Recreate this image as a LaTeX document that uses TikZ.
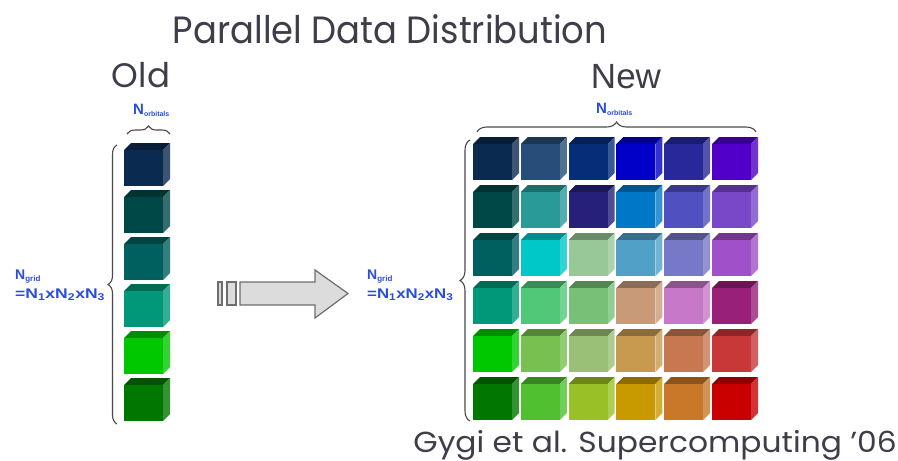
\documentclass[tikz,border=0pt]{standalone}
\usepackage{fontspec}
\setmainfont{Poppins}
\newfontfamily\lblfont{Liberation Sans}
\usetikzlibrary{decorations.pathreplacing}
\definecolor{titlegray}{HTML}{3E3E4A}
\definecolor{lblblue}{HTML}{2A4BE0}
\definecolor{bracegray}{HTML}{4A4A4A}
\definecolor{arrfill}{HTML}{DCDCDC}
\definecolor{arrdraw}{HTML}{6E6E6E}
% cube colours (row r, column c)
\definecolor{c11}{HTML}{0A2A50}\definecolor{c12}{HTML}{264E78}\definecolor{c13}{HTML}{062E78}\definecolor{c14}{HTML}{0000C8}\definecolor{c15}{HTML}{28289A}\definecolor{c16}{HTML}{5000C8}
\definecolor{c21}{HTML}{004848}\definecolor{c22}{HTML}{2A9A98}\definecolor{c23}{HTML}{26207A}\definecolor{c24}{HTML}{0078C8}\definecolor{c25}{HTML}{5050C0}\definecolor{c26}{HTML}{7848C8}
\definecolor{c31}{HTML}{005F5F}\definecolor{c32}{HTML}{00C8C8}\definecolor{c33}{HTML}{98C898}\definecolor{c34}{HTML}{50A0C8}\definecolor{c35}{HTML}{7878C8}\definecolor{c36}{HTML}{A050C8}
\definecolor{c41}{HTML}{009878}\definecolor{c42}{HTML}{50C878}\definecolor{c43}{HTML}{78C078}\definecolor{c44}{HTML}{C89A78}\definecolor{c45}{HTML}{C878C8}\definecolor{c46}{HTML}{982078}
\definecolor{c51}{HTML}{00C800}\definecolor{c52}{HTML}{78C050}\definecolor{c53}{HTML}{9AC078}\definecolor{c54}{HTML}{C89A50}\definecolor{c55}{HTML}{C87850}\definecolor{c56}{HTML}{C83838}
\definecolor{c61}{HTML}{007800}\definecolor{c62}{HTML}{50C030}\definecolor{c63}{HTML}{9AC028}\definecolor{c64}{HTML}{C89A00}\definecolor{c65}{HTML}{C87828}\definecolor{c66}{HTML}{C80000}
% \mycube{x}{y}{colour}
\newcommand{\mycube}[3]{%
  \fill[#3!70!black] (#1,#2+7) -- (#1+7,#2) -- (#1+46,#2) -- (#1+39,#2+7) -- cycle;
  \fill[#3!80!white] (#1+39,#2+7) -- (#1+46,#2) -- (#1+46,#2+36) -- (#1+39,#2+43) -- cycle;
  \fill[#3] (#1,#2+7) rectangle (#1+39,#2+43);
}
\tikzset{
  titletext/.style={text=titlegray, inner sep=0pt},
  lbl/.style={text=lblblue, inner sep=0pt, font=\lblfont\bfseries},
  bracestyle/.style={draw=bracegray, line width=1.1pt, decorate, decoration={brace, amplitude=#1}},
}
\begin{document}
\begin{tikzpicture}[x=1pt, y=-1pt]
\useasboundingbox (0,0) rectangle (898,461);
\fill[white] (0,0) rectangle (898,461);

% titles
\node[titletext, anchor=base, font=\fontsize{38}{42}\selectfont] (title) at (390,43) {\scalebox{0.93}[1]{Parallel Data Distribution}};
\node[titletext, anchor=base, font=\fontsize{34}{38}\selectfont] (old) at (141,87) {Old};
\node[titletext, anchor=base, font=\lblfont\fontsize{35}{38}\selectfont] (new) at (626,88) {New};
\node[titletext, anchor=base east, font=\fontsize{29}{32}\selectfont] (cite) at (897,452) {\scalebox{1.08}[1]{Gygi et al. Supercomputing '06}};

% old column
\foreach \r in {1,...,6} {
  \pgfmathsetmacro{\yy}{143+47*(\r-1)}
  \mycube{124}{\yy}{c\r1}
}
% new grid
\foreach \r in {1,...,6} {
  \foreach \c in {1,...,6} {
    \pgfmathsetmacro{\xx}{473+47.8*(\c-1)}
    \pgfmathsetmacro{\yy}{137+48*(\r-1)}
    \mycube{\xx}{\yy}{c\r\c}
  }
}

% braces
\coordinate (obl) at (117,424);
\coordinate (otl) at (117,145);
\draw[bracestyle=9pt] (obl) -- (otl);
\coordinate (otl2) at (127,134);
\coordinate (otr2) at (170,134);
\draw[bracestyle=8pt] (otl2) -- (otr2);
\coordinate (nbl) at (470,421);
\coordinate (ntl) at (470,140);
\draw[bracestyle=10pt] (nbl) -- (ntl);
\coordinate (ntl2) at (477,132);
\coordinate (ntr2) at (756,132);
\draw[bracestyle=10pt] (ntl2) -- (ntr2);

% labels
\node[lbl, anchor=base west, font=\lblfont\bfseries\fontsize{15}{16}\selectfont] (norbold) at (133,114) {N\textsubscript{\fontsize{7}{8}\selectfont orbitals}};
\node[lbl, anchor=base west, font=\lblfont\bfseries\fontsize{15}{16}\selectfont] (norbnew) at (596,113) {N\textsubscript{\fontsize{7}{8}\selectfont orbitals}};
\node[lbl, anchor=base west, font=\lblfont\bfseries\fontsize{14}{15}\selectfont] (ngridold) at (15,279) {N\textsubscript{\fontsize{8}{9}\selectfont grid}};
\node[lbl, anchor=base west, font=\lblfont\bfseries\fontsize{14}{15}\selectfont] (nprodold) at (15,298) {\scalebox{1.25}[1]{=N\textsubscript{1}xN\textsubscript{2}xN\textsubscript{3}}};
\node[lbl, anchor=base west, font=\lblfont\bfseries\fontsize{14}{15}\selectfont] (ngridnew) at (367,279) {N\textsubscript{\fontsize{8}{9}\selectfont grid}};
\node[lbl, anchor=base west, font=\lblfont\bfseries\fontsize{14}{15}\selectfont] (nprodnew) at (367,298) {\scalebox{1.2}[1]{=N\textsubscript{1}xN\textsubscript{2}xN\textsubscript{3}}};

% striped arrow
\draw[arrdraw, fill=arrfill, line width=1.2pt] (218,282) rectangle (222,305);
\draw[arrdraw, fill=arrfill, line width=1.2pt] (227,282) rectangle (236,305);
\draw[arrdraw, fill=arrfill, line width=1.2pt, line join=miter]
  (240,282) -- (315,282) -- (315,270) -- (348,293.5) -- (315,318) -- (315,305) -- (240,305) -- cycle;
\end{tikzpicture}
\end{document}
